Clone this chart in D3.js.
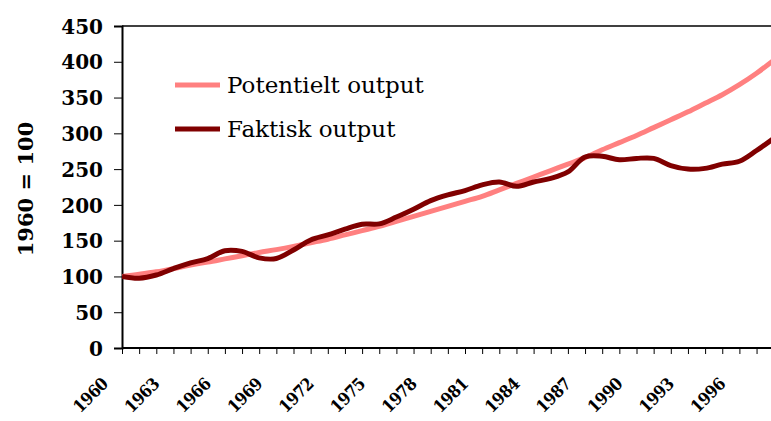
<!DOCTYPE html>
<html>
<head>
<meta charset="utf-8">
<script src="https://cdn.jsdelivr.net/npm/d3@7"></script>
<style>
  body { margin: 0; background: #fff; }
  svg { display: block; }
</style>
</head>
<body>
<div id="chart"></div>
<script>
// Data (index, 1960 = 100)
const years = d3.range(1960, 1999);
const potentiel = [100, 103, 106.5, 111, 116, 120, 124.5, 129, 133.5, 137.5,
  142, 147, 152, 158, 164, 170, 177, 184, 191, 198,
  205, 212, 221, 230, 239, 248, 257, 266, 277, 287,
  297, 308, 319, 330, 342, 354, 368, 384, 402];
const faktisk = [100, 97.5, 102, 111, 119, 125, 136, 135, 126, 125,
  137, 151, 158, 166, 173, 173.5, 183, 194, 206, 214,
  220, 228, 232, 226, 232, 237, 246, 267, 268, 263,
  265, 265, 255, 250, 251, 257, 261, 276, 293];
const tickYears = d3.range(1960, 1999, 3);
const seriesNames = ["Potentielt output", "Faktisk output"];
const seriesColors = ["#ff8080", "#800000"];

const width = 771;
const height = 421;
const margin = { top: 26, left: 122, bottom: 73 };

const svg = d3.select("#chart").append("svg")
    .attr("width", width)
    .attr("height", height);

const x = d3.scaleLinear()
    .domain([1960, 1999])
    .range([margin.left, margin.left + 39 * 17.15]);

const y = d3.scaleLinear()
    .domain([0, 450])
    .range([height - margin.bottom, margin.top]);

// Plot area frame (top line)
svg.append("line")
    .attr("x1", x(1960)).attr("x2", width)
    .attr("y1", y(450)).attr("y2", y(450))
    .attr("stroke", "#000")
    .attr("stroke-width", 1.5);

// Y axis
const yAxis = svg.append("g")
    .attr("transform", `translate(${x(1960)},0)`)
    .call(d3.axisLeft(y).tickValues(d3.range(0, 451, 50)).tickSize(8).tickPadding(11));
yAxis.select(".domain").attr("stroke-width", 2);
yAxis.selectAll(".tick line").attr("stroke-width", 1);
yAxis.selectAll("text")
    .attr("font-family", "DejaVu Serif")
    .attr("font-weight", "bold")
    .attr("font-size", 20)
    .attr("fill", "#000")
    .attr("dy", "0.36em");

// X axis
const xAxis = svg.append("g")
    .attr("transform", `translate(0,${y(0)})`)
    .call(d3.axisBottom(x).tickValues(years).tickSize(6).tickFormat(""));
xAxis.select(".domain").attr("stroke-width", 2).attr("d", `M${x(1960)},0H${width}`);
xAxis.selectAll(".tick line").attr("stroke-width", 1);

svg.append("g")
  .selectAll("text")
  .data(tickYears)
  .join("text")
    .attr("transform", d => `translate(${x(d) - 13},${y(0) + 37}) rotate(-45)`)
    .attr("text-anchor", "end")
    .attr("font-family", "DejaVu Serif Condensed, DejaVu Serif")
    .attr("font-weight", "bold")
    .attr("font-size", 17)
    .attr("letter-spacing", -0.5)
    .text(d => d);

// Y axis title
svg.append("text")
    .attr("transform", `translate(33,${(y(0) + y(450)) / 2 + 2}) rotate(-90)`)
    .attr("text-anchor", "middle")
    .attr("font-family", "DejaVu Serif")
    .attr("font-weight", "bold")
    .attr("font-size", 21)
    .text("1960 = 100");

// Lines
const line = d3.line()
    .x(d => x(d[0]))
    .y(d => y(d[1]))
    .curve(d3.curveCatmullRom.alpha(0.5));

svg.append("defs").append("clipPath")
    .attr("id", "plot-clip")
  .append("rect")
    .attr("x", x(1960)).attr("y", 0)
    .attr("width", width - x(1960)).attr("height", height);

const plot = svg.append("g").attr("clip-path", "url(#plot-clip)");

[potentiel, faktisk].forEach((vals, i) => {
  plot.append("path")
      .datum(years.map((yr, k) => [yr, vals[k]]))
      .attr("fill", "none")
      .attr("stroke", seriesColors[i])
      .attr("stroke-width", 5)
      .attr("stroke-linejoin", "round")
      .attr("d", line);
});

// Legend
const legend = svg.append("g");
seriesNames.forEach((name, i) => {
  const ly = 85 + i * 44;
  legend.append("line")
      .attr("x1", 175).attr("x2", 220)
      .attr("y1", ly).attr("y2", ly)
      .attr("stroke", seriesColors[i])
      .attr("stroke-width", 5);
  legend.append("text")
      .attr("x", 227)
      .attr("y", ly + 8)
      .attr("font-family", "DejaVu Serif")
      .attr("font-size", 23)
      .attr("fill", "#000")
      .text(name);
});
</script>
</body>
</html>
